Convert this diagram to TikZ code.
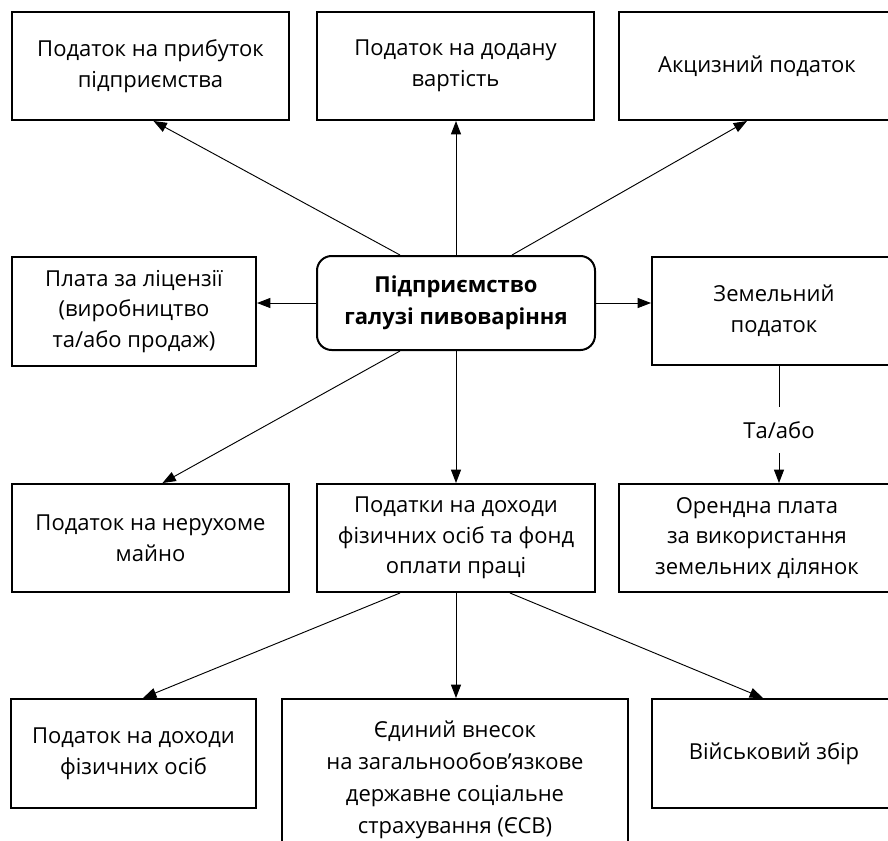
\documentclass[tikz,border=0pt]{standalone}
\usepackage{fontspec}
\setmainfont{Open Sans}
\usetikzlibrary{arrows.meta,calc}
\begin{document}
\begin{tikzpicture}[x=0.75pt,y=-0.75pt,
  box/.style={draw, line width=1.5pt, rectangle, align=center, inner sep=0pt,
    font=\fontsize{16.5}{23}\selectfont},
  wh/.style 2 args={minimum width=#1*0.75pt, minimum height=#2*0.75pt},
  arr/.style={-{Triangle[length=10pt,width=7.5pt]}, line width=0.7pt}]
\useasboundingbox (0,0) rectangle (888,840);
\clip (0,0) rectangle (888,840);

\node[box, wh={277}{108}] (b1) at (150.5,66) {Податок на прибуток\\підприємства};
\node[box, wh={277}{108}] (b2) at (455.5,66) {Податок на додану\\вартість};
\node[box, wh={277}{108}] (b3) at (757,66) {Акцизний податок};

\node[box, wh={278}{94}, rounded corners=11pt, font=\fontsize{16.5}{24}\selectfont\bfseries] (c) at (456,303) {Підприємство\\галузі пивоваріння};
\node[box, wh={244}{109}] (lic) at (134,311.5) {Плата за ліцензії\\(виробництво\\та/або продаж)};
\node[box, wh={244}{108}] (land) at (774,311) {Земельний\\податок};

\node[box, wh={277}{108}] (re) at (150.5,538) {Податок на нерухоме\\майно};
\node[box, wh={278}{108}] (pit) at (456,538) {Податки на доходи\\фізичних осіб та фонд\\оплати праці};
\node[box, wh={277}{108}] (rent) at (757,538) {Орендна плата\\за використання\\земельних ділянок};

\node[box, wh={245}{109}] (ind) at (133.5,753.5) {Податок на доходи\\фізичних осіб};
\node[box, wh={346}{162}, font=\fontsize{16.5}{24}\selectfont] (esv) at (455,780) {Єдиний внесок\\на загальнообов’язкове\\державне соціальне\\страхування (ЄСВ)};
\node[box, wh={244}{109}] (mil) at (774,753.5) {Військовий збір};

\node[font=\fontsize{16.5}{23}\selectfont, inner xsep=2pt, inner ysep=11pt] (tabo) at (779,430) {Та/або};

\draw[arr] ($(c.north)+(-56,0)$) -- ($(b1.south)+(3,0)$);
\draw[arr] (c.north) -- (c.north |- b2.south);
\draw[arr] ($(c.north)+(56,0)$) -- ($(b3.south)+(-10,0)$);
\draw[arr] (c.west) -- (c.west -| lic.east);
\draw[arr] (c.east) -- (c.east -| land.west);
\draw[arr] ($(c.south)+(-56,0)$) -- ($(re.north)+(12,0)$);
\draw[arr] (c.south) -- (c.south |- pit.north);

\draw[line width=0.7pt] (tabo.north |- land.south) -- (tabo.north);
\draw[arr] (tabo.south) -- (tabo.south |- rent.north);

\draw[arr] ($(pit.south)+(-56,0)$) -- ($(ind.north)+(9.5,0)$);
\draw[arr] (pit.south) -- (pit.south |- esv.north);
\draw[arr] ($(pit.south)+(54,0)$) -- ($(mil.north)+(-11,0)$);
\end{tikzpicture}
\end{document}
